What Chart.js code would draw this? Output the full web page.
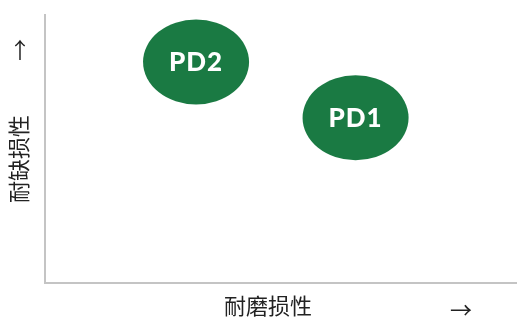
<!DOCTYPE html>
<html>
<head>
<meta charset="utf-8">
<script src="https://cdn.jsdelivr.net/npm/chart.js@4"></script>
<style>
  html, body { margin: 0; padding: 0; background: #fff; }
  #wrap { width: 517px; height: 327px; }
</style>
</head>
<body>
<div id="wrap"><canvas id="chart"></canvas></div>
<script>
// Data
const labels = ['PD2', 'PD1'];
const wearValues = [3.2, 6.58];   // 耐磨损性 (x)
const chipValues = [8.25, 6.17];  // 耐缺损性 (y)
const xTitle = '耐磨损性';
const yTitle = '耐缺损性';

const green = '#1a7a43';
const cjk = '"Noto Sans CJK SC", "Noto Sans", sans-serif';

// draws each point as an ellipse with its label
const ellipsePlugin = {
    id: 'ellipses',
    afterDatasetsDraw(chart) {
        const ctx = chart.ctx;
        const meta = chart.getDatasetMeta(0);
        ctx.save();
        meta.data.forEach((pt, i) => {
            ctx.beginPath();
            ctx.ellipse(pt.x, pt.y, 53, 42.5, 0, 0, Math.PI * 2);
            ctx.fillStyle = green;
            ctx.fill();
            ctx.fillStyle = '#fff';
            ctx.font = '900 26px Lato, sans-serif';
            ctx.textAlign = 'center';
            ctx.textBaseline = 'middle';
            ctx.letterSpacing = '1px';
            ctx.fillText(labels[i], pt.x, pt.y + 1);
        });
        ctx.restore();
    }
};

// axis titles and arrows
const axisTextPlugin = {
    id: 'axisText',
    afterDraw(chart) {
        const ctx = chart.ctx;
        ctx.save();
        ctx.fillStyle = '#222';
        ctx.font = '22px ' + cjk;
        ctx.textAlign = 'center';
        ctx.textBaseline = 'middle';
        ctx.fillText(xTitle, 268, 306);
        ctx.fillText('→', 461, 310);
        ctx.fillText('↑', 20, 50);
        ctx.translate(19, 159);
        ctx.rotate(-Math.PI / 2);
        ctx.fillText(yTitle, 0, 0);
        ctx.restore();
    }
};

new Chart(document.getElementById('chart'), {
    type: 'scatter',
    data: {
        datasets: [{
            data: wearValues.map((v, i) => ({ x: v, y: chipValues[i] })),
            pointRadius: 0,
            pointHoverRadius: 0
        }]
    },
    options: {
        responsive: true,
        maintainAspectRatio: false,
        animation: false,
        events: [],
        layout: { padding: { left: 37, top: 15, bottom: 36, right: 0 } },
        plugins: {
            legend: { display: false },
            tooltip: { enabled: false }
        },
        scales: {
            x: {
                min: 0, max: 10,
                grid: { display: false },
                border: { color: '#c4c4c4', width: 2 },
                ticks: { display: false }
            },
            y: {
                min: 0, max: 10,
                grid: { display: false },
                border: { color: '#c4c4c4', width: 2 },
                ticks: { display: false }
            }
        }
    },
    plugins: [ellipsePlugin, axisTextPlugin]
});
</script>
</body>
</html>
